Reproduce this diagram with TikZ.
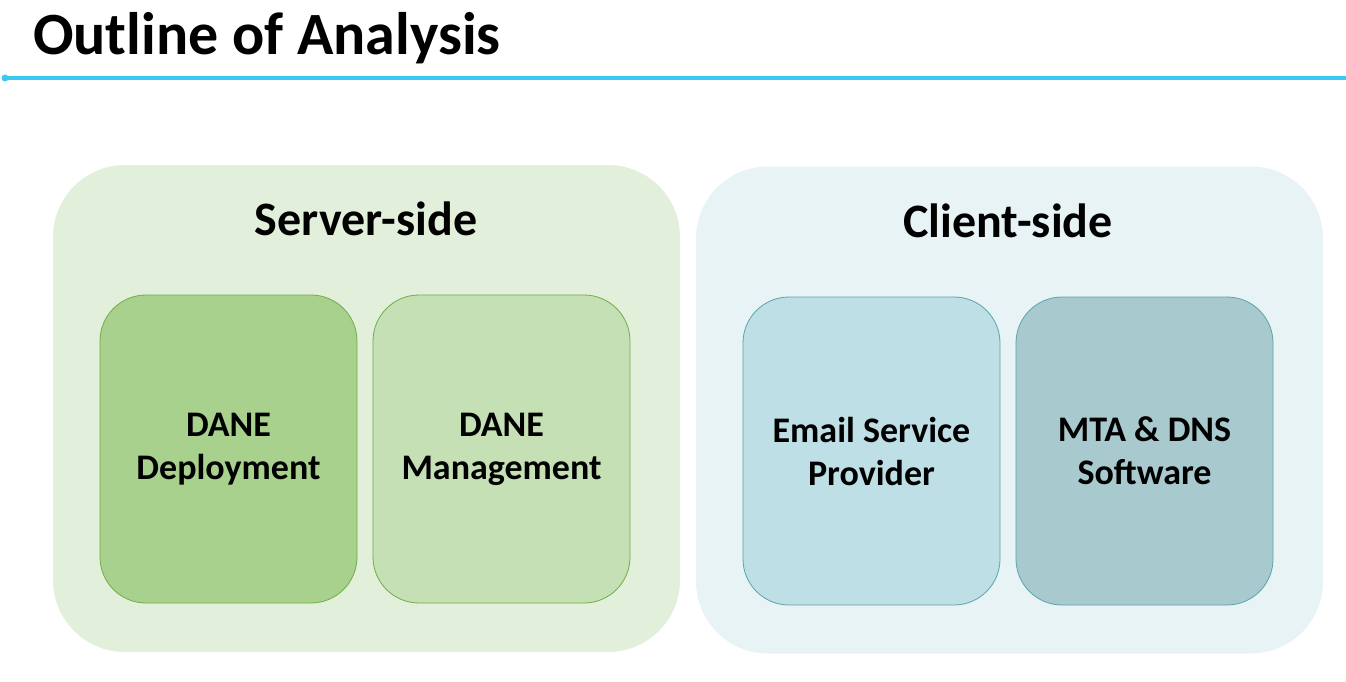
\documentclass[tikz,border=0pt]{standalone}
\usepackage{fontspec}
\setmainfont{Carlito}
\definecolor{rule}{HTML}{3CC8F5}
\definecolor{srvbg}{HTML}{E2EFDA}
\definecolor{clibg}{HTML}{E7F3F5}
\definecolor{depfill}{HTML}{A9D18E}
\definecolor{mgmfill}{HTML}{C5E0B4}
\definecolor{grnline}{HTML}{70AD47}
\definecolor{espfill}{HTML}{BDDFE5}
\definecolor{mtafill}{HTML}{A8CACE}
\definecolor{tealline}{HTML}{5AA5AA}
\tikzset{
  outerbox/.style={rectangle, rounded corners=72pt, draw=none, minimum width=627pt, minimum height=487pt, inner sep=0pt},
  innerbox/.style={rectangle, rounded corners=46pt, line width=0.8pt, minimum width=257pt, minimum height=308pt, inner sep=0pt, align=center, font=\fontsize{36}{43}\selectfont\bfseries},
  grouptitle/.style={font=\fontsize{48}{56}\selectfont\bfseries, inner sep=0pt},
}
\begin{document}
\begin{tikzpicture}[x=1pt,y=-1pt]
\useasboundingbox (0,0) rectangle (1346,682);
\node[anchor=base west, font=\fontsize{60}{70}\selectfont\bfseries, inner sep=0pt] (title) at (33,55) {Outline of Analysis};
\coordinate (ls) at (5,78);
\coordinate (le) at (1346,78);
\draw[rule, line width=3.5pt] (ls) -- (le);
\fill[rule] (ls) circle (3.5pt);

\node[outerbox, fill=srvbg] (server) at (366.5,408.5) {};
\node[grouptitle] (servertitle) at (366,219) {Server-side};
\node[innerbox, fill=depfill, draw=grnline] (dep) at (228.5,449) {DANE\\Deployment};
\node[innerbox, fill=mgmfill, draw=grnline] (mgm) at (501.5,449) {DANE\\Management};

\node[outerbox, fill=clibg] (client) at (1009.5,410) {};
\node[grouptitle] (clienttitle) at (1008,221) {Client-side};
\node[innerbox, fill=espfill, draw=tealline] (esp) at (871.5,451) {Email Service\\Provider};
\node[innerbox, fill=mtafill, draw=tealline] (mta) at (1144.5,451) {MTA \& DNS\\Software};
\end{tikzpicture}
\end{document}
